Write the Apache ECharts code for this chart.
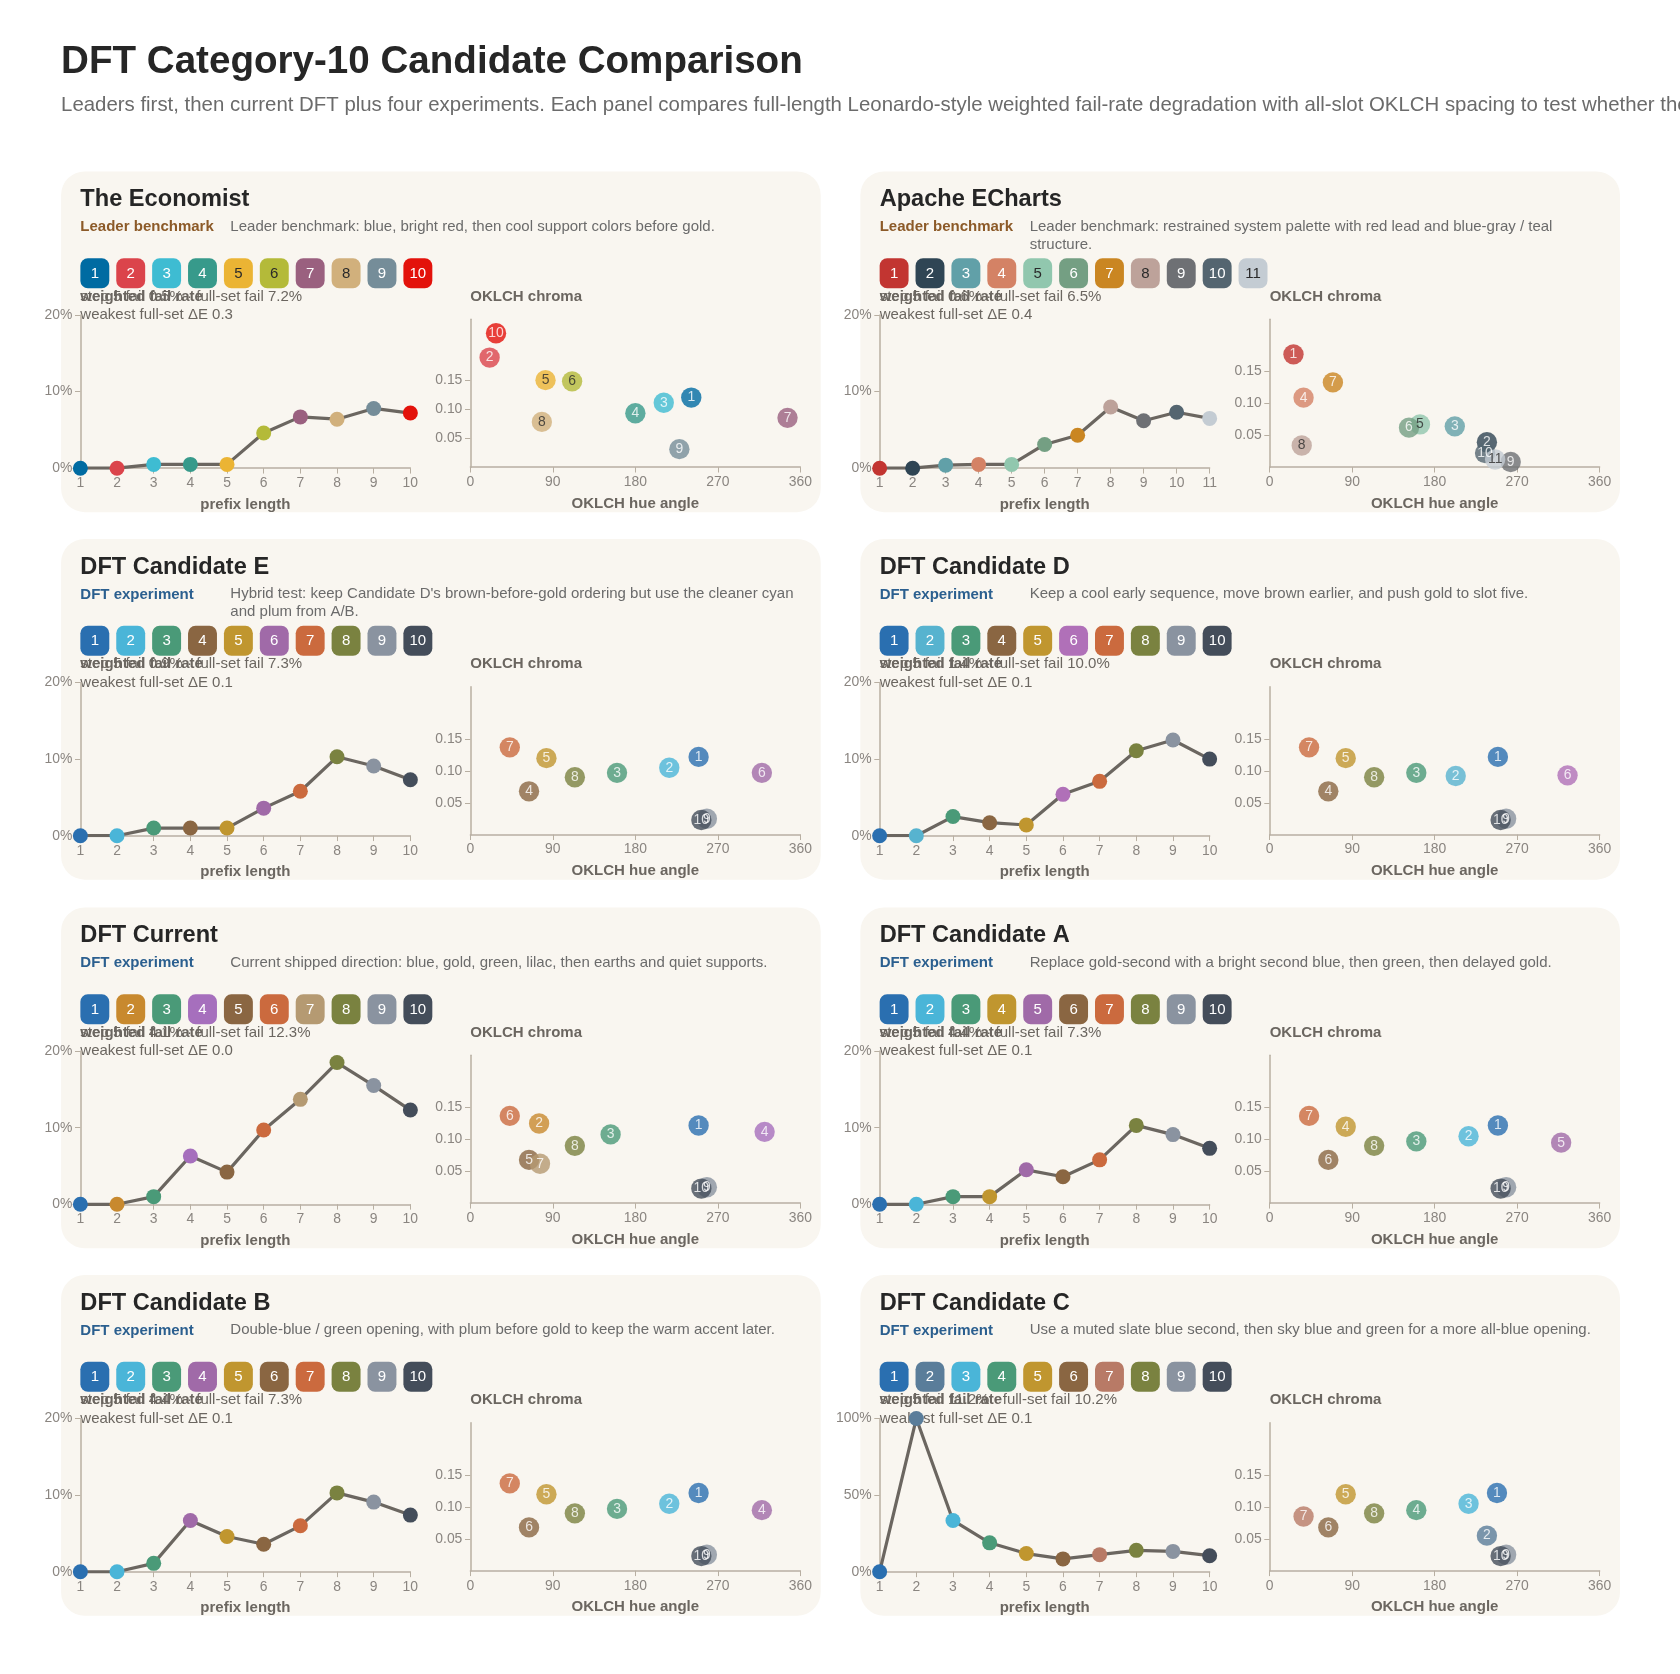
<!DOCTYPE html>
<html><head><meta charset="utf-8">
<script src="https://cdn.jsdelivr.net/npm/echarts@6/dist/echarts.min.js"></script>
<style>html,body{margin:0;background:#fff}#c{width:1680px;height:1674px}</style>
</head><body><div id="c"></div>
<script>
// ---------- DATA ----------
const panelTitles = ['The Economist','Apache ECharts','DFT Candidate E','DFT Candidate D','DFT Current','DFT Candidate A','DFT Candidate B','DFT Candidate C'];
const panelKinds = ['Leader benchmark','Leader benchmark','DFT experiment','DFT experiment','DFT experiment','DFT experiment','DFT experiment','DFT experiment'];
const panelNotes = [
 'Leader benchmark: blue, bright red, then cool support colors before gold.',
 'Leader benchmark: restrained system palette with red lead and blue-gray / teal structure.',
 "Hybrid test: keep Candidate D's brown-before-gold ordering but use the cleaner cyan and plum from A/B.",
 'Keep a cool early sequence, move brown earlier, and push gold to slot five.',
 'Current shipped direction: blue, gold, green, lilac, then earths and quiet supports.',
 'Replace gold-second with a bright second blue, then green, then delayed gold.',
 'Double-blue / green opening, with plum before gold to keep the warm accent later.',
 'Use a muted slate blue second, then sky blue and green for a more all-blue opening.'];
const step5Fail = ['0.5%','0.6%','0.9%','1.4%','4.1%','4.4%','4.4%','11.2%'];
const fullFail = ['7.2%','6.5%','7.3%','10.0%','12.3%','7.3%','7.3%','10.2%'];
const weakestDE = ['0.3','0.4','0.1','0.1','0.0','0.1','0.1','0.1'];
const failAxisMax = [20,20,20,20,20,20,20,100];
const failAxisStep = [10,10,10,10,10,10,10,50];
const chromaAxisMax = [0.255,0.232,0.232,0.232,0.232,0.232,0.232,0.232];

const economistColors = ['#006ba2','#db444b','#3ebcd2','#379a8b','#ebb434','#b4ba39','#9a607f','#d1b07c','#758d99','#e3120b'];
const economistFail = [0,0,0.5,0.5,0.5,4.6,6.7,6.4,7.8,7.2];
const economistHue = [241,21,211,180,82,111,346,78,228,28];
const economistChroma = [0.120,0.189,0.111,0.093,0.150,0.148,0.085,0.078,0.031,0.231];

const echartsColors = ['#c23531','#2f4554','#61a0a8','#d48265','#91c7ae','#749f83','#ca8622','#bda29a','#6e7074','#546570','#c4ccd3'];
const echartsFail = [0,0,0.4,0.5,0.5,3.1,4.3,8.0,6.2,7.3,6.5];
const echartsHue = [26,237,202,37,164,152,69,35,263,235,246];
const echartsChroma = [0.177,0.039,0.064,0.109,0.067,0.062,0.133,0.034,0.008,0.022,0.012];

const candEColors = ['#2a6fb0','#4ab5d8','#4a9a78','#8a6642','#c0962f','#a06aa8','#cb6a3e','#7a8240','#8a93a0','#444d5a'];
const candEFail = [0,0,1.0,1.0,1.0,3.6,5.8,10.3,9.1,7.3];
const candEHue = [249,217,160,64,83,318,43,114,258,252];
const candEChroma = [0.122,0.105,0.097,0.068,0.120,0.097,0.137,0.090,0.025,0.023];

const candDColors = ['#2a6fb0','#57b3cf','#4a9a78','#8a6642','#c0962f','#b070b8','#cb6a3e','#7a8240','#8a93a0','#444d5a'];
const candDFail = [0,0,2.5,1.7,1.4,5.4,7.1,11.1,12.5,10.0];
const candDHue = [249,203,160,64,83,325,43,114,258,252];
const candDChroma = [0.122,0.092,0.097,0.068,0.120,0.093,0.137,0.090,0.025,0.023];

const currentColors = ['#2a6fb0','#c8892e','#4a9a78','#a66fbd','#8a6642','#cb6a3e','#b59a72','#7a8240','#8a93a0','#444d5a'];
const currentFail = [0,0,1.0,6.3,4.2,9.7,13.7,18.5,15.5,12.3];
const currentHue = [249,75,153,321,64,43,76,114,258,252];
const currentChroma = [0.122,0.125,0.108,0.112,0.068,0.137,0.062,0.090,0.025,0.023];

const candAColors = ['#2a6fb0','#4ab5d8','#4a9a78','#c0962f','#a06aa8','#8a6642','#cb6a3e','#7a8240','#8a93a0','#444d5a'];
const candAFail = [0,0,1.0,1.0,4.5,3.6,5.8,10.3,9.1,7.3];
const candAHue = [249,217,160,83,318,64,43,114,258,252];
const candAChroma = [0.122,0.105,0.097,0.120,0.095,0.068,0.137,0.090,0.025,0.023];

const candBColors = ['#2a6fb0','#4ab5d8','#4a9a78','#a06aa8','#c0962f','#8a6642','#cb6a3e','#7a8240','#8a93a0','#444d5a'];
const candBFail = [0,0,1.1,6.7,4.6,3.6,6.0,10.3,9.1,7.4];
const candBHue = [249,217,160,318,83,64,43,114,258,252];
const candBChroma = [0.122,0.105,0.097,0.095,0.120,0.068,0.137,0.090,0.025,0.023];

const candCColors = ['#2a6fb0','#5a7d9a','#4ab5d8','#4a9a78','#c0962f','#8a6642','#b87a66','#7a8240','#8a93a0','#444d5a'];
const candCFail = [0,100,33.5,18.9,11.9,8.4,11.2,14.0,13.3,10.5];
const candCHue = [248,237,217,160,83,64,37,114,258,252];
const candCChroma = [0.122,0.055,0.105,0.095,0.120,0.068,0.085,0.090,0.025,0.023];

const panelColors = [economistColors,echartsColors,candEColors,candDColors,currentColors,candAColors,candBColors,candCColors];
const panelFail = [economistFail,echartsFail,candEFail,candDFail,currentFail,candAFail,candBFail,candCFail];
const panelHue = [economistHue,echartsHue,candEHue,candDHue,currentHue,candAHue,candBHue,candCHue];
const panelChroma = [economistChroma,echartsChroma,candEChroma,candDChroma,currentChroma,candAChroma,candBChroma,candCChroma];

// ---------- LAYOUT ----------
const S = 1680/1568;
const s = v => v*S;
const FONT = '"Liberation Sans", Arial, sans-serif';
const f = (w,px) => (w?w+' ':'')+(px*S).toFixed(1)+'px '+FONT;
function lum(hex){const n=parseInt(hex.slice(1),16);const r=n>>16,g=(n>>8)&255,b=n&255;return (0.299*r+0.587*g+0.114*b)/255;}
function txtCol(hex){return lum(hex)>0.62?'#2a2a2a':'#ffffff';}
const panelX=[57,803], panelY=[160,503,847,1190], PW=709, PH=318;
const axisStyle={axisLine:{show:true,lineStyle:{color:'#b8afa2',width:1.5}},axisTick:{show:true,length:s(5),lineStyle:{color:'#b8afa2'}},splitLine:{show:false},axisLabel:{color:'#8a8580',fontSize:s(13),fontFamily:FONT}};

const graphic=[
 {type:'text',x:s(57),y:s(40),style:{text:'DFT Category-10 Candidate Comparison',font:f('bold',36),fill:'#262626'}},
 {type:'text',x:s(57),y:s(89),style:{text:'Leaders first, then current DFT plus four experiments. Each panel compares full-length Leonardo-style weighted fail-rate degradation with all-slot OKLCH spacing to test whether the order holds up.',font:f('',19),fill:'#6b6b6b'}}
];
const grid=[],xAxis=[],yAxis=[],series=[];
panelTitles.forEach((t,p)=>{
  const px=panelX[p%2], py=panelY[Math.floor(p/2)];
  const cols=panelColors[p];
  graphic.push({type:'rect',shape:{x:s(px),y:s(py),width:s(PW),height:s(PH),r:s(22)},style:{fill:'#f9f6f0'},z:-10});
  graphic.push({type:'text',x:s(px+18),y:s(py+15),style:{text:t,font:f('bold',22),fill:'#262626'}});
  graphic.push({type:'text',x:s(px+18),y:s(py+45),style:{text:panelKinds[p],font:f('bold',14),fill:p<2?'#8c5a28':'#2b5f8f'}});
  graphic.push({type:'text',x:s(px+158),y:s(py+43),style:{text:panelNotes[p],font:f('',14),fill:'#6b6b6b',width:s(535),overflow:'break',lineHeight:s(17)}});
  cols.forEach((c,i)=>{
    graphic.push({type:'rect',shape:{x:s(px+18+i*33.5),y:s(py+81),width:s(27),height:s(28),r:s(7)},style:{fill:c}});
    graphic.push({type:'text',x:s(px+31.5+i*33.5),y:s(py+95.5),style:{text:String(i+1),font:f('',14),fill:txtCol(c),align:'center',verticalAlign:'middle'}});
  });
  graphic.push({type:'text',x:s(px+18),y:s(py+110),style:{text:'weighted fail rate',font:f('bold',14),fill:'#6b6660'}});
  graphic.push({type:'text',x:s(px+18),y:s(py+110),style:{text:'step 5 fail '+step5Fail[p]+' · full-set fail '+fullFail[p],font:f('',14),fill:'#6b6660'}});
  graphic.push({type:'text',x:s(px+18),y:s(py+127),style:{text:'weakest full-set ΔE '+weakestDE[p],font:f('',14),fill:'#6b6660'}});
  graphic.push({type:'text',x:s(px+382),y:s(py+110),style:{text:'OKLCH chroma',font:f('bold',14),fill:'#6b6660'}});

  const n=cols.length;
  const g1=grid.length;
  grid.push({left:s(px+18),top:s(py+134),width:s(308),height:s(143)});
  grid.push({left:s(px+382),top:s(py+138),width:s(308),height:s(138)});
  const nameStyle={color:'#6b6660',fontWeight:'bold',fontSize:s(14),fontFamily:FONT};
  xAxis.push(Object.assign({},axisStyle,{gridIndex:g1,type:'value',min:1,max:n,interval:1,name:'prefix length',nameLocation:'middle',nameGap:s(27),nameTextStyle:nameStyle}));
  yAxis.push(Object.assign({},axisStyle,{gridIndex:g1,type:'value',min:0,max:failAxisMax[p],interval:failAxisStep[p],axisLabel:Object.assign({},axisStyle.axisLabel,{formatter:'{value}%'})}));
  xAxis.push(Object.assign({},axisStyle,{gridIndex:g1+1,type:'value',min:0,max:360,interval:90,name:'OKLCH hue angle',nameLocation:'middle',nameGap:s(27),nameTextStyle:nameStyle}));
  yAxis.push(Object.assign({},axisStyle,{gridIndex:g1+1,type:'value',min:0,max:chromaAxisMax[p],interval:0.05,axisTick:{show:true,length:s(5),lineStyle:{color:'#b8afa2'},customValues:[0.05,0.1,0.15,0.2]},axisLabel:Object.assign({},axisStyle.axisLabel,{showMaxLabel:false,customValues:[0.05,0.1,0.15,0.2],formatter:v=>v.toFixed(2)})}));
  series.push({type:'line',xAxisIndex:g1,yAxisIndex:g1,data:panelFail[p].map((v,i)=>[i+1,v]),symbol:'circle',symbolSize:s(14),
    lineStyle:{color:'#6b6660',width:s(3)},itemStyle:{color:pr=>cols[pr.dataIndex]},z:3,animation:false});
  series.push({type:'scatter',xAxisIndex:g1+1,yAxisIndex:g1+1,data:panelHue[p].map((h,i)=>({value:[h,panelChroma[p][i]],itemStyle:{color:cols[i]},label:{color:txtCol(cols[i])}})),
    symbolSize:s(19),label:{show:true,position:'inside',formatter:pr=>String(pr.dataIndex+1),fontSize:s(13),fontFamily:FONT},animation:false});
});

const chart=echarts.init(document.getElementById('c'),null,{renderer:'canvas'});
chart.setOption({backgroundColor:'#ffffff',animation:false,graphic,grid,xAxis,yAxis,series});
</script></body></html>
